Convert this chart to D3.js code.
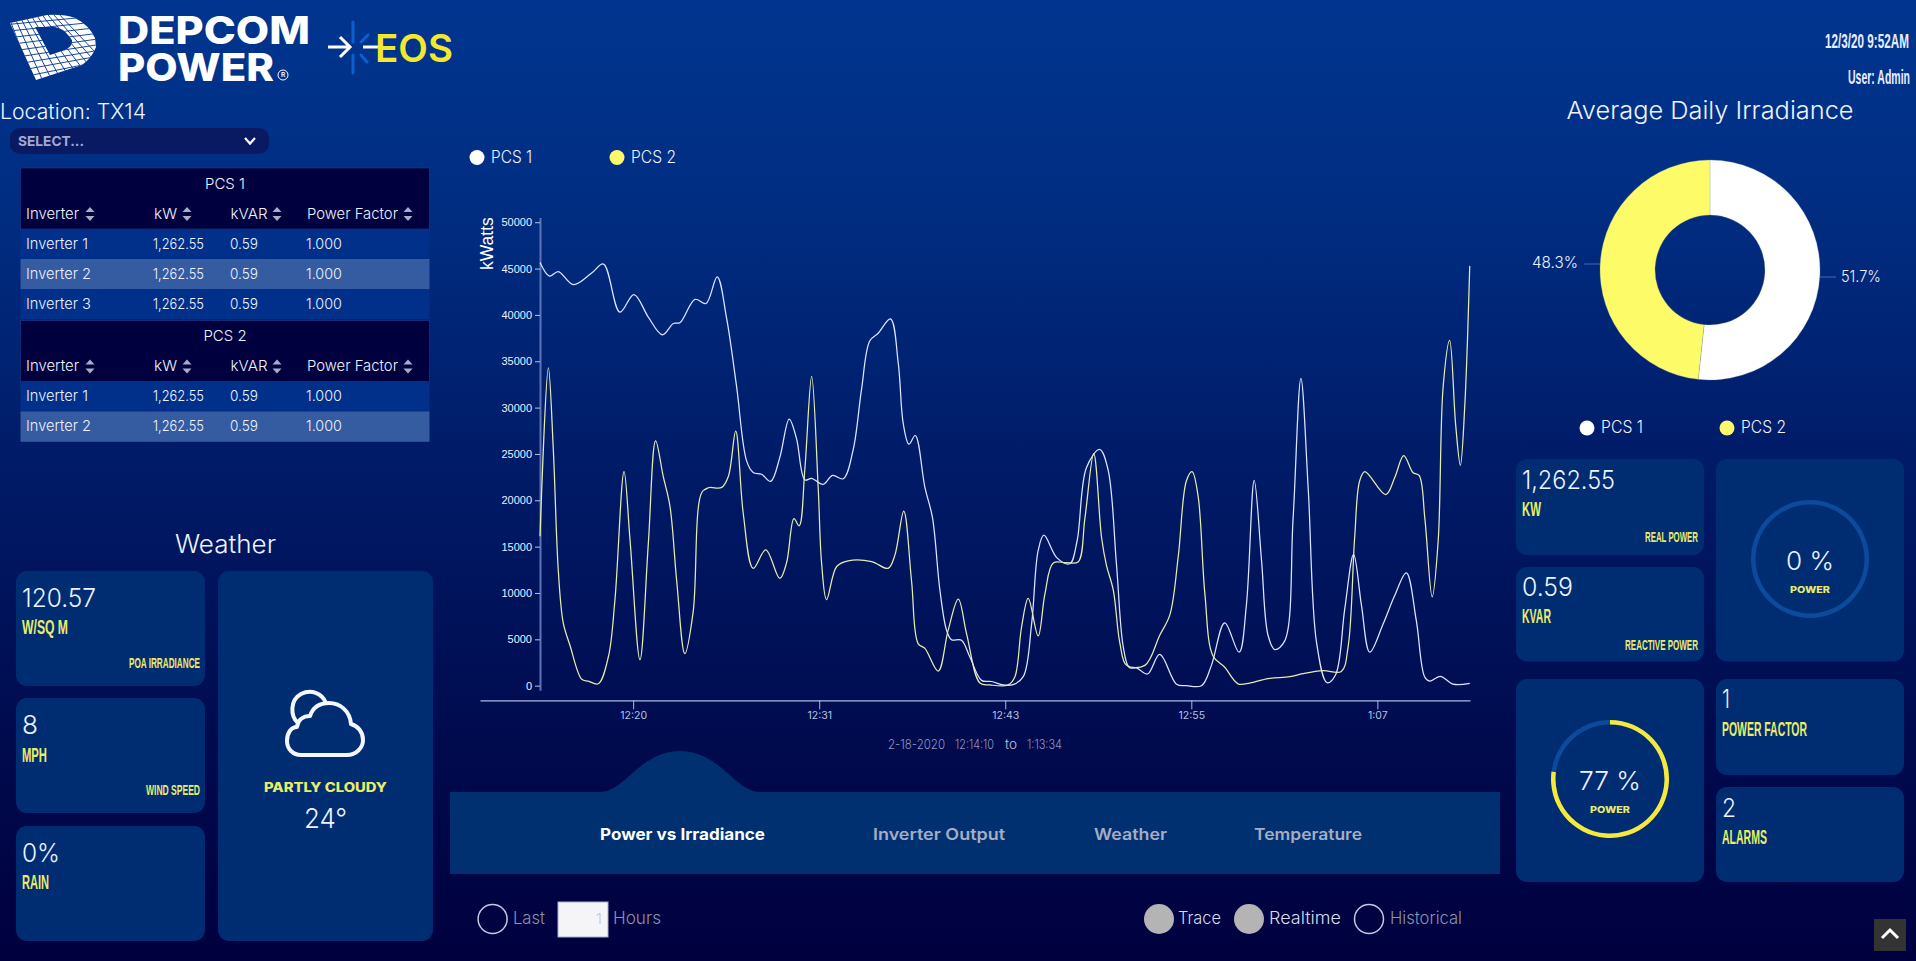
<!DOCTYPE html>
<html>
<head>
<meta charset="utf-8">
<title>Depcom Power EOS</title>
<script src="https://cdnjs.cloudflare.com/ajax/libs/d3/7.8.5/d3.min.js"></script>
<style>
html,body{margin:0;padding:0;width:1916px;height:961px;overflow:hidden;background:#00003f}
svg{display:block}
text{white-space:pre}
</style>
</head>
<body>
<svg id="root" width="1916" height="961" viewBox="0 0 1916 961"></svg>
<script>
// ---------- chart data ----------
const seriesNames = ["PCS 1", "PCS 2"];
const yTickValues = [0,5000,10000,15000,20000,25000,30000,35000,40000,45000,50000];
const xTickSeconds = [357,1070,1783,2496,3209];
const xTickLabels = ["12:20","12:31","12:43","12:55","1:07"];

const pcs1Seconds = [0,36,70,128,198,243,306,360,415,469,511,536,594,636,679,715,753,792,817,849,884,919,955,983,1015,1041,1085,1121,1162,1200,1232,1264,1296,1343,1373,1392,1414,1438,1475,1504,1532,1558,1577,1615,1647,1692,1730,1775,1813,1852,1884,1909,1931,1982,2030,2058,2094,2145,2177,2209,2235,2258,2286,2328,2375,2439,2477,2535,2573,2624,2679,2707,2737,2765,2790,2816,2854,2886,2916,2944,2976,3016,3049,3084,3118,3148,3180,3231,3275,3320,3358,3390,3409,3450,3499,3563];
const pcs1Kw = [45650,44190,44680,43260,44520,45490,40300,42200,39770,37860,39080,39160,41680,41230,44110,39650,32340,24230,23010,22810,22040,24630,28770,26660,22200,22360,21710,22680,22320,25440,31940,37210,38020,39570,34780,28280,26050,26990,21390,18140,10430,5970,4950,4910,3120,570,450,80,120,970,6660,14570,16230,13760,13150,15580,23500,25480,23290,13150,4220,1950,1910,1260,3370,160,0,0,2190,6780,3610,8680,22160,13550,5440,3900,4830,18020,33150,21260,4630,320,1180,8280,14160,8680,3610,6660,9700,12170,7060,970,490,1010,160,240];

const pcs2Seconds = [0,32,51,70,89,115,160,185,223,262,287,322,345,383,415,443,472,498,524,555,587,619,645,696,722,750,779,817,865,919,945,973,993,1015,1041,1066,1079,1098,1137,1181,1271,1334,1360,1394,1424,1449,1475,1526,1564,1603,1635,1686,1724,1794,1820,1845,1871,1909,1935,1967,2018,2062,2088,2122,2152,2171,2197,2222,2248,2318,2375,2414,2446,2477,2499,2522,2548,2579,2624,2675,2720,2790,2873,2924,3001,3071,3097,3122,3141,3161,3241,3276,3310,3346,3369,3391,3419,3442,3461,3486,3509,3527,3544,3563];
const pcs2Kw = [16110,34290,25440,12460,6780,4340,690,490,200,3120,9210,23090,15700,2800,15300,26420,22600,19360,11240,3450,7990,20780,21350,21390,22600,27470,18550,12660,14650,11570,13270,18020,17250,23410,33360,21390,13270,9290,12860,13470,13390,12660,14080,18830,11240,4540,4020,1580,5970,9330,5560,280,80,80,970,6250,9410,5360,9900,13230,13270,13350,18020,25040,15990,12950,10310,4630,2190,2190,5440,7670,13960,22080,23090,20450,9900,3210,1990,200,280,770,970,1300,1620,1540,4220,15990,22080,23090,20610,22480,24830,22970,22680,18020,9580,15580,32220,37250,28160,23780,30190,45290];

const donutLabels = ["51.7%","48.3%"];
const donutValues = [51.7,48.3];

const gaugePercents = [0,77];
const tableColumns = ["Inverter","kW","kVAR","Power Factor"];
const pcs1Inverters = ["Inverter 1","Inverter 2","Inverter 3"];
const pcs2Inverters = ["Inverter 1","Inverter 2"];
const inverterKw = "1,262.55", inverterKvar = "0.59", inverterPf = "1.000";
const tabLabels = ["Power vs Irradiance","Inverter Output","Weather","Temperature"];

// ---------- helpers ----------
const LIGHT = "Inter, 'Open Sans', sans-serif";
const NARROW = "'Liberation Sans Narrow','Liberation Sans',sans-serif";
const YEL = "#e8ec6a";
const CARD = "#002d72";
const svg = d3.select("#root");
const defs = svg.append("defs");
const grad = defs.append("linearGradient").attr("id","bg").attr("x1",0).attr("x2",0).attr("y1",0).attr("y2",1);
[[0,"#00358f"],[0.2,"#002e83"],[0.5,"#001a66"],[0.75,"#000c50"],[1,"#00003e"]].forEach(s=>grad.append("stop").attr("offset",s[0]).attr("stop-color",s[1]));
svg.append("rect").attr("width",1916).attr("height",961).attr("fill","url(#bg)");

function T(parent,str,x,y,o={}){
  const t = parent.append("text").text(str).attr("x",x).attr("y",y-1)
    .attr("dominant-baseline","central")
    .attr("font-family",o.family||LIGHT).attr("font-size",o.size||16)
    .attr("font-weight",o.weight||300).attr("fill",o.fill||"#eef3ff");
  if(o.anchor) t.attr("text-anchor",o.anchor);
  if(o.w) t.attr("textLength",o.w).attr("lengthAdjust","spacingAndGlyphs");
  return t;
}
// right-aligned text squeezed to a width with a transform
function fitRight(str,right,y,w,o){
  const t = T(svg,str,0,y,o).attr("text-anchor","end").attr("x",0);
  const natural = t.node().getComputedTextLength();
  t.attr("transform",`translate(${right},0) scale(${w/natural},1)`);
  return t;
}
function card(x,y,w,h){ svg.append("rect").attr("x",x).attr("y",y).attr("width",w).attr("height",h).attr("rx",11).attr("fill",CARD); }
const bigNum=(s,x,y,w)=>T(svg,s,x,y,{size:26,w});
const yellowLab=(s,x,y,w,size=20)=>T(svg,s,x,y,{family:NARROW,weight:700,size,fill:YEL,w});

// ---------- header ----------
const logo = svg.append("g");
const logoOuter = "M10,23 L47,15 Q64,14 75,18 Q89,25 95,38 L96,47 Q92,58 82,65 L36,80 Z";
const logoHole = "M35,27 L55,27 Q64,29 68,35 Q73,40 72,43 Q71,47 65,50 L50,55 Z";
defs.append("clipPath").attr("id","logoClip").append("path").attr("d",logoOuter+logoHole).attr("clip-rule","evenodd");
logo.append("path").attr("d",logoOuter+logoHole).attr("fill","#fff").attr("fill-rule","evenodd");
const grid = logo.append("g").attr("clip-path","url(#logoClip)").attr("stroke","#00348f").attr("stroke-width",0.9);
d3.range(0,11).forEach(i=>{ grid.append("line").attr("x1",2+i*5.5).attr("y1",14+i*-0.2).attr("x2",26+i*9).attr("y2",86-i*1.2); });
d3.range(0,11).forEach(i=>{ grid.append("line").attr("x1",6+i*2.6).attr("y1",18+i*6.4).attr("x2",100-i*0.4).attr("y2",10+i*5.8); });

T(svg,"DEPCOM",118,30.5,{family:"Inter,sans-serif",weight:800,size:38,fill:"#fff",w:192});
T(svg,"POWER",118,68,{family:"Inter,sans-serif",weight:800,size:38,fill:"#fff",w:156});
svg.append("circle").attr("cx",283).attr("cy",75).attr("r",5).attr("fill","none").attr("stroke","#fff").attr("stroke-width",1);
T(svg,"R",283,76.3,{family:"Inter,sans-serif",weight:600,size:6.5,fill:"#fff",anchor:"middle"});

const spark = svg.append("g").attr("stroke","#0a60d0").attr("stroke-linecap","round");
[[353,22,353,42,3],[353,55,353,73,3],[361,42,368,35,3],[361,55,367,62,3]].forEach(l=>spark.append("line").attr("x1",l[0]).attr("y1",l[1]).attr("x2",l[2]).attr("y2",l[3]).attr("stroke-width",l[4]));
const arrow = svg.append("g").attr("stroke","#fff").attr("stroke-width",3).attr("fill","none");
arrow.append("path").attr("d","M328,47 H350 M340,37 L350,47 L340,57");
arrow.append("path").attr("d","M363,47 H380");
T(svg,"EOS",375,49,{family:"Inter,sans-serif",weight:600,size:38,fill:"#f2e92f",w:78});

fitRight("12/3/20 9:52AM",1909,42,84,{family:NARROW,weight:700,size:20,fill:"#e8eeff"});
fitRight("User: Admin",1910,78,62,{family:NARROW,weight:700,size:20,fill:"#e8eeff"});

// ---------- left column: location + tables ----------
T(svg,"Location: TX14",0,112,{size:21,w:146});
svg.append("rect").attr("x",10).attr("y",128).attr("width",259).attr("height",26).attr("rx",10).attr("fill","#0a1a62");
T(svg,"SELECT...",18,142,{family:LIGHT,weight:700,size:13.5,fill:"#a4a9d4",w:66});
svg.append("path").attr("d","M245,138 L250,143.5 L255,138").attr("fill","none").attr("stroke","#fff").attr("stroke-width",2.2);

function sortIcon(x,y){
  svg.append("path").attr("d",`M${x-4.5},${y-2} L${x},${y-7} L${x+4.5},${y-2} Z M${x-4.5},${y+2} L${x},${y+7} L${x+4.5},${y+2} Z`).attr("fill","#a8adc8");
}
function table(title,rows,top){
  svg.append("rect").attr("x",20.5).attr("y",top).attr("width",409).attr("height",61).attr("fill","#00003f").attr("stroke","#1d3c8a").attr("stroke-width",.6);
  T(svg,title,225,top+16,{anchor:"middle",size:15});
  const hx=[26,154,230.5,307], hw=[53,23,37,91], ix=[90,187,277,408];
  tableColumns.forEach((c,i)=>{ T(svg,c,hx[i],top+46,{size:15,w:hw[i]}); sortIcon(ix[i],top+46); });
  rows.forEach((r,i)=>{
    const y=top+61+i*30;
    svg.append("rect").attr("x",20.5).attr("y",y).attr("width",409).attr("height",30.3).attr("fill",i%2?"#355ba1":"#00308a");
    T(svg,r,26,y+15,{size:15,w:r.endsWith("1")?62:65});
    T(svg,inverterKw,153,y+15,{size:15,w:51});
    T(svg,inverterKvar,230,y+15,{size:15,w:28});
    T(svg,inverterPf,306,y+15,{size:15,w:36});
  });
}
table(seriesNames[0],pcs1Inverters,168);
table(seriesNames[1],pcs2Inverters,320.5);

// ---------- weather ----------
T(svg,"Weather",175,545,{size:25,w:101});
card(16,571,189,115); card(16,698,189,115); card(16,826,189,115); card(218,571,215,370);
bigNum("120.57",22,598,74); yellowLab("W/SQ M",22,628,46);
yellowLab("POA IRRADIANCE",129,663,71,15);
bigNum("8",22,725,16); yellowLab("MPH",22,756,25);
yellowLab("WIND SPEED",146,790,54,15);
bigNum("0%",22,853,38); yellowLab("RAIN",22,883,27);
svg.append("path").attr("d","M301,755 L347,755 C356,755 363,748 363,740 C363,732 358,726 351,724 C350,711 340,703 329,703 C320,703 313,707 310,716 C303,716 298,720 297,727 C291,727 287,733 287,741 C287,749 293,755 301,755 Z M298,723 C290,716 290,700 301,694 C311,689 322,693 326,703").attr("fill","none").attr("stroke","#f4f7ff").attr("stroke-width",4).attr("stroke-linejoin","round");
T(svg,"PARTLY CLOUDY",264,788,{family:"Inter,sans-serif",weight:800,size:12.5,fill:YEL,w:123});
T(svg,"24°",304,819.5,{size:27,w:43});

// ---------- main line chart ----------
const x = d3.scaleLinear().domain([-230,3564]).range([480,1470]);
const y = d3.scaleLinear().domain([-500,50500]).range([690.3,217.6]);
const lineGen = d3.line().curve(d3.curveCatmullRom.alpha(0.5)).x(d=>x(d[0])).y(d=>y(d[1]));

[[477,"#fff",491,41,seriesNames[0]],[617,"#fdf96a",631,45,seriesNames[1]]].forEach(l=>{
  svg.append("circle").attr("cx",l[0]).attr("cy",157.5).attr("r",7.5).attr("fill",l[1]);
  T(svg,l[4],l[2],157.5,{size:17,w:l[3]});
});

const yAxisG = svg.append("g").attr("transform","translate(540,0)")
  .call(d3.axisLeft(y).tickValues(yTickValues).tickSize(5).tickSizeOuter(0).tickFormat(d3.format("d")));
yAxisG.select(".domain").attr("stroke","#5d75b6").attr("stroke-width",2);
yAxisG.selectAll(".tick line").attr("stroke","#b8c4e8");
yAxisG.selectAll("text").attr("fill","#eaf0ff").attr("font-size",11).attr("font-family","'Liberation Sans',sans-serif").attr("x",-8);

const xAxisG = svg.append("g").attr("transform","translate(0,700.3)")
  .call(d3.axisBottom(x).tickValues(xTickSeconds).tickSize(9).tickSizeOuter(0).tickFormat((d,i)=>xTickLabels[i]));
xAxisG.select(".domain").attr("stroke","#aab8e6").attr("stroke-width",1.2);
xAxisG.selectAll(".tick line").attr("stroke","#aab8e6");
xAxisG.selectAll("text").attr("fill","#b8c2e2").attr("font-size",10.5).attr("font-family",LIGHT).attr("font-weight",400).attr("y",11);

T(svg,"kWatts",0,1,{family:"'Liberation Sans',sans-serif",weight:400,size:17.5,fill:"#fff",anchor:"middle"})
  .attr("transform","translate(487,243.6) rotate(-90)");

svg.append("path").datum(d3.zip(pcs1Seconds,pcs1Kw)).attr("d",lineGen).attr("fill","none").attr("stroke","#dce7ff").attr("stroke-width",1.25);
svg.append("path").datum(d3.zip(pcs2Seconds,pcs2Kw)).attr("d",lineGen).attr("fill","none").attr("stroke","#e4ecb0").attr("stroke-width",1.25);

T(svg,"2-18-2020",888,745,{size:13,fill:"#8f97bd",w:57});
T(svg,"12:14:10",955,745,{size:13,fill:"#8f97bd",w:39});
T(svg,"to",1005,745,{size:13,fill:"#c0c6de",w:12});
T(svg,"1:13:34",1027,745,{size:13,fill:"#8f97bd",w:35});

// ---------- tabs ----------
svg.append("path").attr("d","M450,792 H600 C625,792 640,751 680,751 C720,751 735,792 760,792 H1500 V874 H450 Z").attr("fill","#00306f");
[[600,165,"#fff",700],[873,132,"#a5adc4",600],[1094,73,"#a5adc4",600],[1254,108,"#a5adc4",600]].forEach((p,i)=>{
  T(svg,tabLabels[i],p[0],835,{size:16,weight:p[3],fill:p[2],w:p[1]});
});

// ---------- bottom controls ----------
function radio(cx,filled){
  svg.append("circle").attr("cx",cx).attr("cy",919).attr("r",filled?15:14.5)
    .attr("fill",filled?"#b4b4b4":"none").attr("stroke",filled?"none":"#c2c8e2").attr("stroke-width",1.5);
}
radio(492.6,false);
T(svg,"Last",513,919,{size:17,fill:"#8d93aa",w:32});
svg.append("rect").attr("x",558).attr("y",902).attr("width",50).attr("height",35).attr("fill","#f5f5f8").attr("stroke","#a8acd0").attr("stroke-width",1);
T(svg,"1",596,919,{size:15,fill:"#c8c8cc"});
T(svg,"Hours",613,919,{size:17,fill:"#8d93aa",w:48});
radio(1159,true);  T(svg,"Trace",1178,919,{size:17,fill:"#d8dcec",w:43});
radio(1249,true);  T(svg,"Realtime",1269,919,{size:17,fill:"#d8dcec",w:72});
radio(1369,false); T(svg,"Historical",1390,919,{size:17,fill:"#8d93aa",w:72});

// ---------- donut ----------
T(svg,"Average Daily Irradiance",1566.5,111,{size:24,w:287});
const pie = d3.pie().sort(null)(donutValues);
const arc = d3.arc().innerRadius(55).outerRadius(110);
const donut = svg.append("g").attr("transform","translate(1710,270)");
donut.selectAll("path").data(pie).join("path").attr("d",arc).attr("fill",(d,i)=>i?"#fdfb68":"#fff").attr("stroke","#8aa0a0").attr("stroke-width",.3);
[[1820,1836,277],[1584,1600,264]].forEach(l=>svg.append("line").attr("x1",l[0]).attr("x2",l[1]).attr("y1",l[2]).attr("y2",l[2]).attr("stroke","#4a6ab0").attr("stroke-width",1));
T(svg,donutLabels[0],1841,277,{size:16,w:40});
T(svg,donutLabels[1],1532,263,{size:16,w:46});
[[1587,"#fff",1601,42,seriesNames[0]],[1727,"#fdf96a",1741,45,seriesNames[1]]].forEach(l=>{
  svg.append("circle").attr("cx",l[0]).attr("cy",428).attr("r",7.5).attr("fill",l[1]);
  T(svg,l[4],l[2],428,{size:17,w:l[3]});
});

// ---------- right cards ----------
card(1516,459,188,96); card(1516,567,188,94.5); card(1716,459,188,202.5);
card(1516,679,188,203); card(1716,679,188,96); card(1716,787,188,95);
bigNum("1,262.55",1522,480,93); yellowLab("KW",1522,510,19);
yellowLab("REAL POWER",1645,537,53,15);
bigNum("0.59",1522,587.5,51); yellowLab("KVAR",1522,617,29);
yellowLab("REACTIVE POWER",1625,645,73,15);
bigNum("1",1722,699,8); yellowLab("POWER FACTOR",1722,730,85);
bigNum("2",1722,808,14); yellowLab("ALARMS",1722,838,45);

function gauge(cx,cy,pct,anchorW){
  const g = svg.append("g").attr("transform",`translate(${cx},${cy})`);
  const scale = d3.scaleLinear().domain([0,100]).range([0,2*Math.PI]);
  const ring = d3.arc().innerRadius(54.5).outerRadius(59);
  g.append("path").attr("d",ring({startAngle:0,endAngle:2*Math.PI})).attr("fill","#0c4a9c");
  if(pct>0) g.append("path").attr("d",ring({startAngle:scale(0),endAngle:scale(pct)})).attr("fill","#f6e93b");
  T(g,pct+" %",-anchorW/2,2.5,{size:26,w:anchorW});
  T(g,"POWER",-20,31,{family:"Inter,sans-serif",weight:800,size:9,fill:YEL,w:40});
}
gauge(1810,559,gaugePercents[0],48);
gauge(1610,779,gaugePercents[1],62);

// ---------- scroll-to-top ----------
svg.append("rect").attr("x",1874).attr("y",919).attr("width",32).attr("height",32).attr("fill","#333");
svg.append("path").attr("d","M1882,938 L1890,930 L1898,938").attr("fill","none").attr("stroke","#fff").attr("stroke-width",3);
</script>
</body>
</html>
